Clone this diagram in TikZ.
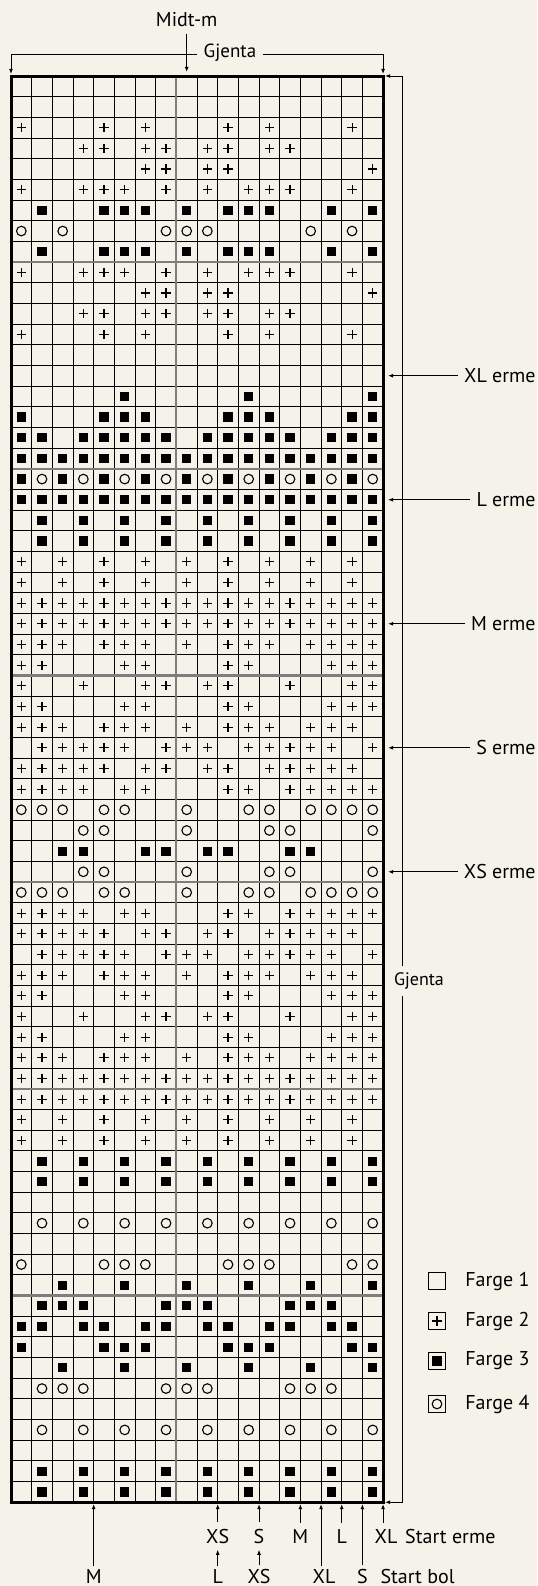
\documentclass[tikz,border=0pt]{standalone}
\usepackage{fontspec}
\setmainfont{PT Sans}
\usepackage{xcolor}
\usetikzlibrary{arrows.meta,positioning}
\definecolor{paper}{RGB}{245,242,234}
\definecolor{rulegray}{RGB}{125,125,125}
\newcommand{\stplus}[1]{\draw[symline] (#1) +(-4.6,0) -- +(4.6,0) +(0,-4.6) -- +(0,4.6);}
\newcommand{\stsquare}[1]{\fill (#1) +(-4.6,-4.6) rectangle +(4.6,4.6);}
\newcommand{\stcircle}[1]{\draw[symline] (#1) circle[radius=4.8];}
\begin{document}
\begin{tikzpicture}[
			x=0.5pt, y=-0.5pt,
			lbl/.style={inner xsep=1pt, inner ysep=3pt, font=\fontsize{10}{12}\selectfont},
			botlbl/.style={lbl, inner ysep=1.5pt},
			smlbl/.style={inner sep=3pt, font=\fontsize{9}{11}\selectfont},
			arr/.style={-{Latex[length=2.6pt,width=2pt]}, line width=0.5pt},
			thingrid/.style={line width=0.5pt},
			grayrule/.style={rulegray, line width=1.1pt},
			symline/.style={line width=0.55pt},
			legbox/.style={rectangle, draw, line width=0.5pt, minimum size=8.5pt, inner sep=0pt}
			]
			\fill[paper] (0,0) rectangle (537,1586);
			\useasboundingbox (0,0) rectangle (537,1586);
			\def\gx{11}\def\gy{76}\def\cw{20.67}
			\foreach \i in {1,...,17} \draw[thingrid] ({\gx+\i*\cw},\gy) -- ++(0,{69*\cw});
			\foreach \j in {1,...,68} \draw[thingrid] (\gx,{\gy+\j*\cw}) -- ++({18*\cw},0);
			\draw[grayrule] ({\gx+8*\cw},\gy) -- ++(0,{69*\cw});
			\foreach \j in {9,19,...,59} \draw[grayrule] (\gx,{\gy+\j*\cw}) -- ++({18*\cw},0);
			\draw[line width=1.5pt] (\gx,\gy) rectangle ++({18*\cw},{69*\cw});
			\foreach \cells [count=\r] in {
				{0,0,0,0,0,0,0,0,0,0,0,0,0,0,0,0,0,0},
				{0,0,0,0,0,0,0,0,0,0,0,0,0,0,0,0,0,0},
				{1,0,0,0,1,0,1,0,0,0,1,0,1,0,0,0,1,0},
				{0,0,0,1,1,0,1,1,0,1,1,0,1,1,0,0,0,0},
				{0,0,0,0,0,0,1,1,0,1,1,0,0,0,0,0,0,1},
				{1,0,0,1,1,1,0,1,0,1,0,1,1,1,0,0,1,0},
				{0,2,0,0,2,2,2,0,2,0,2,2,2,0,0,2,0,2},
				{3,0,3,0,0,0,0,3,3,3,0,0,0,0,3,0,3,0},
				{0,2,0,0,2,2,2,0,2,0,2,2,2,0,0,2,0,2},
				{1,0,0,1,1,1,0,1,0,1,0,1,1,1,0,0,1,0},
				{0,0,0,0,0,0,1,1,0,1,1,0,0,0,0,0,0,1},
				{0,0,0,1,1,0,1,1,0,1,1,0,1,1,0,0,0,0},
				{1,0,0,0,1,0,1,0,0,0,1,0,1,0,0,0,1,0},
				{0,0,0,0,0,0,0,0,0,0,0,0,0,0,0,0,0,0},
				{0,0,0,0,0,0,0,0,0,0,0,0,0,0,0,0,0,0},
				{0,0,0,0,0,2,0,0,0,0,0,2,0,0,0,0,0,2},
				{2,0,0,0,2,2,2,0,0,0,2,2,2,0,0,0,2,2},
				{2,2,0,2,2,2,2,2,0,2,2,2,2,2,0,2,2,2},
				{2,2,2,2,2,2,2,2,2,2,2,2,2,2,2,2,2,2},
				{2,3,2,3,2,3,2,3,2,3,2,3,2,3,2,3,2,3},
				{2,2,2,2,2,2,2,2,2,2,2,2,2,2,2,2,2,2},
				{0,2,0,2,0,2,0,2,0,2,0,2,0,2,0,2,0,2},
				{0,2,0,2,0,2,0,2,0,2,0,2,0,2,0,2,0,2},
				{1,0,1,0,1,0,1,0,1,0,1,0,1,0,1,0,1,0},
				{1,0,1,0,1,0,1,0,1,0,1,0,1,0,1,0,1,0},
				{1,1,1,1,1,1,1,1,1,1,1,1,1,1,1,1,1,1},
				{1,1,1,1,1,1,1,1,1,1,1,1,1,1,1,1,1,1},
				{1,1,1,0,1,1,1,0,1,0,1,1,1,0,1,1,1,1},
				{1,1,0,0,0,1,1,0,0,0,1,1,0,0,0,1,1,1},
				{1,0,0,1,0,0,1,1,0,1,1,0,0,1,0,0,1,1},
				{1,1,0,0,0,1,1,0,0,0,1,1,0,0,0,1,1,1},
				{1,1,1,0,1,1,1,0,1,0,1,1,1,0,1,1,1,0},
				{0,1,1,1,1,1,0,1,1,1,0,1,1,1,1,1,0,1},
				{1,1,1,1,1,0,1,1,0,1,1,0,1,1,1,1,1,0},
				{1,1,1,1,0,1,1,0,0,0,1,1,0,1,1,1,1,1},
				{3,3,3,0,3,3,0,0,3,0,0,3,3,0,3,3,3,3},
				{0,0,0,3,3,0,0,0,3,0,0,0,3,3,0,0,0,3},
				{0,0,2,2,0,0,2,2,0,2,2,0,0,2,2,0,0,0},
				{0,0,0,3,3,0,0,0,3,0,0,0,3,3,0,0,0,3},
				{3,3,3,0,3,3,0,0,3,0,0,3,3,0,3,3,3,3},
				{1,1,1,1,0,1,1,0,0,0,1,1,0,1,1,1,1,1},
				{1,1,1,1,1,0,1,1,0,1,1,0,1,1,1,1,1,0},
				{0,1,1,1,1,1,0,1,1,1,0,1,1,1,1,1,0,1},
				{1,1,1,0,1,1,1,0,1,0,1,1,1,0,1,1,1,0},
				{1,1,0,0,0,1,1,0,0,0,1,1,0,0,0,1,1,1},
				{1,0,0,1,0,0,1,1,0,1,1,0,0,1,0,0,1,1},
				{1,1,0,0,0,1,1,0,0,0,1,1,0,0,0,1,1,1},
				{1,1,1,0,1,1,1,0,1,0,1,1,1,0,1,1,1,1},
				{1,1,1,1,1,1,1,1,1,1,1,1,1,1,1,1,1,1},
				{1,1,1,1,1,1,1,1,1,1,1,1,1,1,1,1,1,1},
				{1,0,1,0,1,0,1,0,1,0,1,0,1,0,1,0,1,0},
				{1,0,1,0,1,0,1,0,1,0,1,0,1,0,1,0,1,0},
				{0,2,0,2,0,2,0,2,0,2,0,2,0,2,0,2,0,2},
				{0,2,0,2,0,2,0,2,0,2,0,2,0,2,0,2,0,2},
				{0,0,0,0,0,0,0,0,0,0,0,0,0,0,0,0,0,0},
				{0,3,0,3,0,3,0,3,0,3,0,3,0,3,0,3,0,3},
				{0,0,0,0,0,0,0,0,0,0,0,0,0,0,0,0,0,0},
				{3,0,0,0,3,3,3,0,0,0,3,3,3,0,0,0,3,3},
				{0,0,2,0,0,2,0,0,2,0,0,2,0,0,2,0,0,2},
				{0,2,2,2,0,0,0,2,2,2,0,0,0,2,2,2,0,0},
				{2,2,0,2,2,0,2,2,0,2,2,0,2,2,0,2,2,0},
				{2,0,0,0,2,2,2,0,0,0,2,2,2,0,0,0,2,2},
				{0,0,2,0,0,2,0,0,2,0,0,2,0,0,2,0,0,2},
				{0,3,3,3,0,0,0,3,3,3,0,0,0,3,3,3,0,0},
				{0,0,0,0,0,0,0,0,0,0,0,0,0,0,0,0,0,0},
				{0,3,0,3,0,3,0,3,0,3,0,3,0,3,0,3,0,3},
				{0,0,0,0,0,0,0,0,0,0,0,0,0,0,0,0,0,0},
				{0,2,0,2,0,2,0,2,0,2,0,2,0,2,0,2,0,2},
				{0,2,0,2,0,2,0,2,0,2,0,2,0,2,0,2,0,2}%
			}{
				\foreach \s [count=\k] in \cells {
					\pgfmathsetmacro\px{\gx+(\k-0.5)*\cw}
					\pgfmathsetmacro\py{\gy+(\r-0.5)*\cw}
					\ifcase\s\or\stplus{\px,\py}\or\stsquare{\px,\py}\or\stcircle{\px,\py}\fi
				}
			}
			\coordinate (grid-tl) at (\gx,74);
			\coordinate (grid-tr) at ({\gx+18*\cw},74);
			\coordinate (grid-rt) at (385,\gy);
			\coordinate (grid-rb) at (385,{\gy+69*\cw});
			\node[lbl] (midt) at ({\gx+8.5*\cw},20) {Midt-m};
			\coordinate (midt-in) at ({\gx+8.5*\cw},72);
			\draw[arr] (midt) -- (midt-in);
			\node[smlbl, font=\fontsize{9.5}{11}\selectfont] (gjtop) at (230,53) {Gjenta};
			\coordinate (gjtop-l) at (\gx,54);
			\coordinate (gjtop-r) at ({\gx+18*\cw},54);
			\draw[arr] (gjtop.west |- gjtop-l) -- (gjtop-l) -- (grid-tl);
			\draw[arr] (gjtop.east |- gjtop-r) -- (gjtop-r) -- (grid-tr);
			\node[smlbl] (gjright) at (419,981) {Gjenta};
			\coordinate (gjright-t) at (402,\gy);
			\coordinate (gjright-b) at (402,{\gy+69*\cw});
			\draw[arr] (gjright.north -| gjright-t) -- (gjright-t) -- (grid-rt);
			\draw[arr] (gjright.south -| gjright-b) -- (gjright-b) -- (grid-rb);
			\foreach \sz/\txt/\row in {xl/XL erme/15, l/L erme/21, m/M erme/27, s/S erme/33, xs/XS erme/39} {
				\node[lbl, inner xsep=3pt, anchor=east] (\sz-erme) at (542,{\gy+(\row-0.5)*\cw}) {\txt};
				\coordinate (\sz-row) at (388,{\gy+(\row-0.5)*\cw});
				\draw[arr] (\sz-erme) -- (\sz-row);
			}
			\foreach \k in {4,10,12,14,15,16,17,18} \coordinate (bot-\k) at ({\gx+\k*\cw},1504);
			\node[lbl] (e-xs) at ({\gx+10*\cw},1536) {XS};
			\node[lbl] (e-s) at ({\gx+12*\cw},1536) {S};
			\node[lbl] (e-m) at ({\gx+14*\cw},1536) {M};
			\node[lbl] (e-l) at ({\gx+16*\cw},1536) {L};
			\node[lbl] (e-xl) at ({\gx+18*\cw+3},1536) {XL};
			\node[lbl, right=1.5pt of e-xl] (start-erme) {Start erme};
			\draw[arr] (e-xs) -- (bot-10);
			\draw[arr] (e-s) -- (bot-12);
			\draw[arr] (e-m) -- (bot-14);
			\draw[arr] (e-l) -- (bot-16);
			\draw[arr] (e-xl.north -| bot-18) -- (bot-18);
			\node[botlbl] (b-m) at ({\gx+4*\cw},1576) {M};
			\node[botlbl] (b-l) at ({\gx+10*\cw},1576) {L};
			\node[botlbl] (b-xs) at ({\gx+12*\cw},1576) {XS};
			\node[botlbl] (b-xl) at ({\gx+15*\cw+3},1576) {XL};
			\node[botlbl] (b-s) at ({\gx+17*\cw},1576) {S};
			\node[botlbl, right=4pt of b-s] (start-bol) {Start bol};
			\draw[arr] (b-m) -- (bot-4);
			\draw[arr] (b-l) -- (e-xs);
			\draw[arr] (b-xs) -- (e-s);
			\draw[arr] (b-xl.north -| bot-15) -- (bot-15);
			\draw[arr] (b-s) -- (bot-17);
			\foreach \n/\yy in {1/1281, 2/1321, 3/1361, 4/1404} {
				\node[legbox] (leg\n) at (437,\yy) {};
				\node[lbl, anchor=west] (farge\n) at (463,\yy) {Farge \n};
			}
			\stplus{leg2}
			\stsquare{leg3}
			\stcircle{leg4}
		\end{tikzpicture}
\end{document}
